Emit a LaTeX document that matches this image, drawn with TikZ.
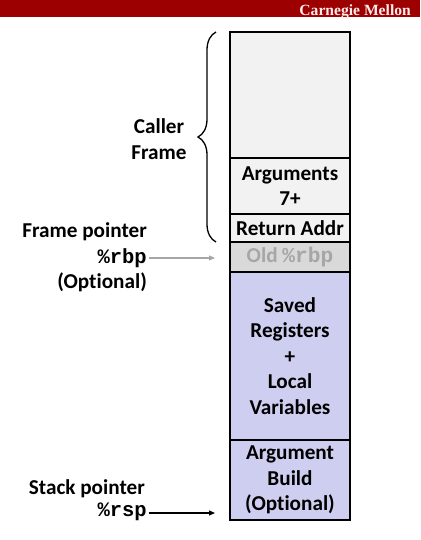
\documentclass[tikz,border=0pt]{standalone}
\usepackage{fontspec}
\setmainfont[Ligatures=NoCommon]{Carlito}
\newfontfamily\monofam{Liberation Mono}
\newfontfamily\seriffam{Liberation Serif}
\usetikzlibrary{decorations.pathreplacing,arrows.meta}
\definecolor{cmured}{HTML}{9C0000}
\definecolor{callerfill}{HTML}{F2F2F2}
\definecolor{oldfill}{HTML}{D9D9D9}
\definecolor{oldtext}{HTML}{A6A6A6}
\definecolor{lav}{RGB}{206,206,240}
\begin{document}
\begin{tikzpicture}[x=1pt,y=-1pt,
  txt/.style={font=\fontsize{21.2}{25.5}\selectfont\bfseries, inner sep=0pt},
  stackbox/.style={txt, draw=black, line width=1.3pt, minimum width=120pt, align=center},
  lbl/.style={txt, anchor=base east},
  ptr/.style={-{Triangle[length=6pt,width=5pt]}, line width=1.1pt}
]
\useasboundingbox (0,0) rectangle (420,540);
\fill[white] (0,0) rectangle (420,540);
% banner
\fill[cmured] (0,0) rectangle (420,17);
\node[anchor=base east, inner sep=0pt, text=white!92!red, font=\seriffam\fontsize{15.6}{18}\selectfont\bfseries] (cmu) at (411,16) {Carnegie Mellon};
% stack boxes
\node[stackbox, fill=callerfill, minimum height=126pt] (caller) at (290,95) {};
\node[stackbox, fill=callerfill, minimum height=56pt] (args) at (290,186) {Arguments\\7+};
\node[stackbox, fill=callerfill, minimum height=28pt] (ret) at (290,228) {Return Addr};
\node[stackbox, fill=oldfill, minimum height=30pt, text=oldtext] (old) at (290,257) {Old {\monofam\%rbp}};
\node[stackbox, fill=lav, minimum height=168pt] (saved) at (290,356) {Saved\\Registers\\+\\Local\\Variables};
\node[stackbox, fill=lav, minimum height=80pt] (build) at (290,480) {Argument\\Build\\(Optional)};
% brace
\coordinate (bb) at (216,242);
\coordinate (bt) at (216,32);
\draw[line width=1.3pt, decorate, decoration={brace, amplitude=18pt}] (bb) -- (bt);
\node[txt, align=center] (callerlbl) at (159,139) {Caller\\Frame};
% frame pointer
\node[lbl] (fp) at (147,237) {Frame pointer};
\node[lbl, font=\monofam\fontsize{20.5}{25}\selectfont\bfseries] (rbp) at (147,263) {\%rbp};
\node[lbl] (fpopt) at (147,288) {(Optional)};
\coordinate (rbpend) at (215,258);
\draw[ptr, oldtext] (rbp.east |- rbpend) ++(2,0) -- (rbpend);
% stack pointer
\node[lbl] (sp) at (145,494) {Stack pointer};
\node[lbl, font=\monofam\fontsize{20.5}{25}\selectfont\bfseries] (rsp) at (147,516) {\%rsp};
\coordinate (rspend) at (215,513);
\draw[ptr, black] (rsp.east |- rspend) ++(2,0) -- (rspend);
\end{tikzpicture}
\end{document}
